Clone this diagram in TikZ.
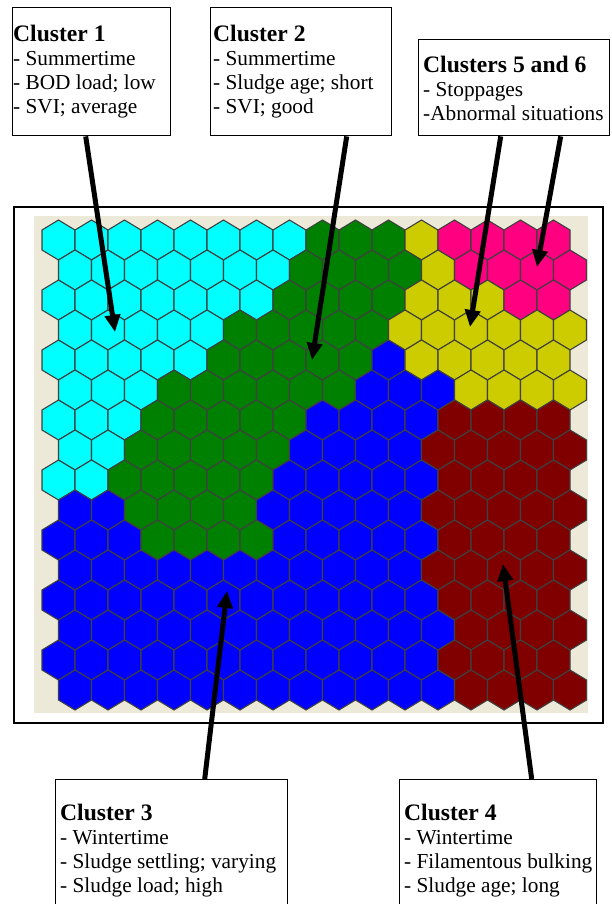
\documentclass[tikz,border=0pt]{standalone}
\usepackage{fontspec}
\setmainfont{Liberation Serif}
\usetikzlibrary{arrows.meta,positioning,calc}
\definecolor{hexC}{RGB}{  0,255,255}
\definecolor{hexG}{RGB}{  0,128,  0}
\definecolor{hexY}{RGB}{204,204,  0}
\definecolor{hexP}{RGB}{255,  0,128}
\definecolor{hexB}{RGB}{  0,  0,255}
\definecolor{hexM}{RGB}{128,  0,  0}
\definecolor{MapBack}{RGB}{236,233,216}
\newcommand{\cltitle}[1]{{\fontsize{23.6}{24}\selectfont\bfseries #1}}
\tikzset{
  %% 说明框
  cbox/.style={rectangle,draw=black,line width=1.4pt,
               anchor=north west,inner sep=0pt},
  ctext/.style={inner sep=0pt,align=left,
                font=\fontsize{21.3}{24}\selectfont},
  %% 地图框与底色
  mapframe/.style={rectangle,draw=black,line width=2pt,
                   anchor=north west,inner sep=0pt},
  mapback/.style={rectangle,fill=MapBack,anchor=north west,inner sep=0pt},
  %% 六边形单元
  hexcell/.style={draw=black!75,line width=1.1pt},
  %% 箭头
  carr/.style={-{Triangle[length=17pt,width=15pt]},line width=5pt,color=black},
}

\begin{document}
\begin{tikzpicture}[x=1pt,y=-1pt]
    \useasboundingbox (0,0) rectangle (611,904);
    \clip (0,0) rectangle (611,904);

    %% SOM 地图
    \node[mapframe,minimum width=589pt,minimum height=516pt] (frame) at (13,206) {};
    \node[mapback, minimum width=554pt,minimum height=497pt] (mapbg) at (34,216) {};

    \foreach \r/\cells in {
      1/{C,C,C,C,C,C,C,C,G,G,G,Y,P,P,P,P},
      2/{C,C,C,C,C,C,C,G,G,G,G,Y,P,P,P,P},
      3/{C,C,C,C,C,C,C,G,G,G,G,Y,Y,Y,P,P},
      4/{C,C,C,C,C,G,G,G,G,G,Y,Y,Y,Y,Y,Y},
      5/{C,C,C,C,C,G,G,G,G,G,B,Y,Y,Y,Y,Y},
      6/{C,C,C,G,G,G,G,G,G,B,B,B,Y,Y,Y,Y},
      7/{C,C,C,G,G,G,G,G,B,B,B,B,M,M,M,M},
      8/{C,C,G,G,G,G,G,B,B,B,B,M,M,M,M,M},
      9/{C,C,G,G,G,G,G,B,B,B,B,B,M,M,M,M},
      10/{B,B,G,G,G,G,B,B,B,B,B,M,M,M,M,M},
      11/{B,B,B,G,G,G,G,B,B,B,B,B,M,M,M,M},
      12/{B,B,B,B,B,B,B,B,B,B,B,M,M,M,M,M},
      13/{B,B,B,B,B,B,B,B,B,B,B,B,M,M,M,M},
      14/{B,B,B,B,B,B,B,B,B,B,B,B,M,M,M,M},
      15/{B,B,B,B,B,B,B,B,B,B,B,B,M,M,M,M},
      16/{B,B,B,B,B,B,B,B,B,B,B,B,M,M,M,M}} {
      \foreach \c [count=\k] in \cells {
        \pgfmathsetmacro\hx{58.5+33*(\k-1)+16.5*(1-mod(\r,2))}
        \pgfmathsetmacro\hy{240+30*(\r-1)}
        \path[hexcell,fill=hex\c] (\hx,\hy) +(0,-20) -- +(16.5,-10) -- +(16.5,10)
          -- +(0,20) -- +(-16.5,10) -- +(-16.5,-10) -- cycle;
      }
    }

    %% 说明框（上）
    \node[cbox,minimum width=158pt,minimum height=128pt] (c1)  at (12,7)  {};
    \node[cbox,minimum width=181pt,minimum height=128pt] (c2)  at (210,7) {};
    \node[cbox,minimum width=191pt,minimum height=96pt]  (c56) at (418,39) {};
    \node[ctext,below right=18pt and 1pt of c1.north west] (c1txt)
      {\cltitle{Cluster 1}\\- Summertime\\- BOD load; low\\- SVI; average};
    \node[ctext,below right=18pt and 3pt of c2.north west] (c2txt)
      {\cltitle{Cluster 2}\\- Summertime\\- Sludge age; short\\- SVI; good};
    \node[ctext,below right=17pt and 5pt of c56.north west] (c56txt)
      {\cltitle{Clusters 5 and 6}\\- Stoppages\\-Abnormal situations};

    %% 说明框（下）
    \node[cbox,minimum width=232pt,minimum height=150pt] (c3) at (55,779)  {};
    \node[cbox,minimum width=197pt,minimum height=150pt] (c4) at (399,779) {};
    \node[ctext,below right=25pt and 5pt of c3.north west] (c3txt)
      {\cltitle{Cluster 3}\\- Wintertime\\- Sludge settling; varying\\- Sludge load; high};
    \node[ctext,below right=25pt and 5pt of c4.north west] (c4txt)
      {\cltitle{Cluster 4}\\- Wintertime\\- Filamentous bulking\\- Sludge age; long};

    %% 箭头
    \coordinate (t1)   at (115,332);
    \coordinate (t2)   at (312,360);
    \coordinate (t56a) at (470,327);
    \coordinate (t56b) at (537,267);
    \coordinate (t3)   at (227,591);
    \coordinate (t4)   at (503,564);
    \draw[carr] ($(c1.south)+(-6,0)$)    -- (t1);
    \draw[carr] ($(c2.south)+(45.5,0)$)  -- (t2);
    \draw[carr] ($(c56.south)+(-13.5,0)$) -- (t56a);
    \draw[carr] ($(c56.south)+(46.5,0)$) -- (t56b);
    \draw[carr] ($(c3.north)+(33,0)$)    -- (t3);
    \draw[carr] ($(c4.north)+(33.5,0)$)  -- (t4);
  \end{tikzpicture}
\end{document}
